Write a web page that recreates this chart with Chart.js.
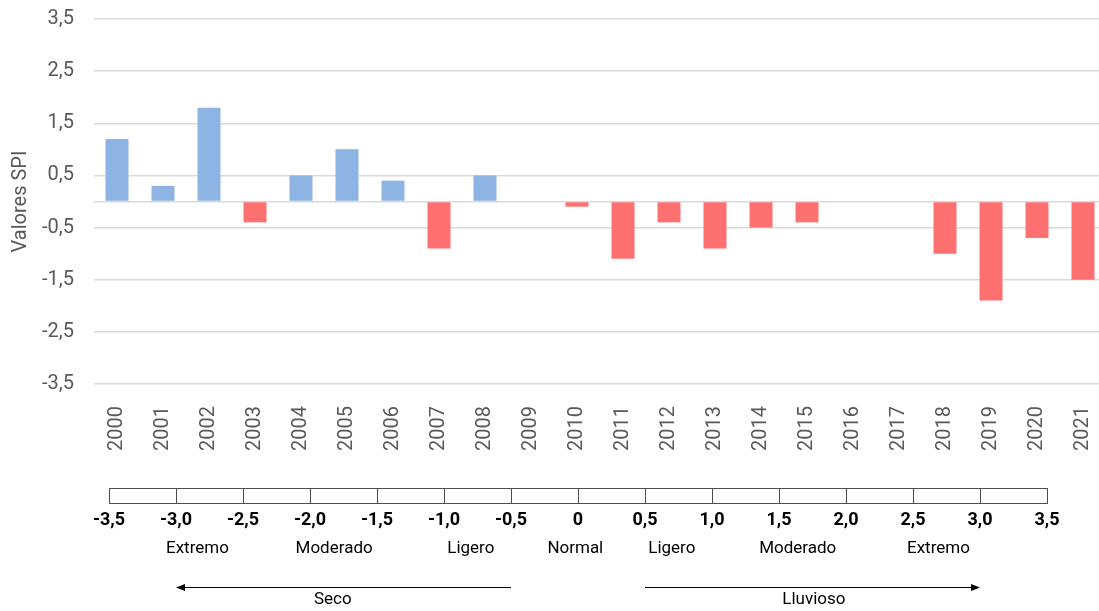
<!DOCTYPE html>
<html>
<head>
<meta charset="utf-8">
<script src="https://cdn.jsdelivr.net/npm/chart.js@4.4.1/dist/chart.umd.min.js"></script>
<style>
  html, body { margin:0; padding:0; background:#fff; overflow:hidden; width:1099px; height:611px; }
  #main { position:absolute; left:0; top:0; }
  #scale { position:absolute; left:0; top:480px; }
</style>
</head>
<body>
<canvas id="main" width="1106" height="460"></canvas>
<canvas id="scale" width="1099" height="131"></canvas>
<script>
// ---- data ----
const years = ['2000','2001','2002','2003','2004','2005','2006','2007','2008','2009','2010',
               '2011','2012','2013','2014','2015','2016','2017','2018','2019','2020','2021'];
const spiValues = [1.2, 0.3, 1.8, -0.4, 0.5, 1.0, 0.4, -0.9, 0.5, 0, -0.1,
                   -1.1, -0.4, -0.9, -0.5, -0.4, 0, 0, -1.0, -1.9, -0.7, -1.5];
const yAxisTitle = 'Valores SPI';

// classification scale
const scaleMin = -3.5, scaleMax = 3.5, scaleStep = 0.5;
const classNames = ['Extremo','Moderado','Ligero','Normal','Ligero','Moderado','Extremo'];
const classCenters = [-2.84, -1.82, -0.8, -0.02, 0.7, 1.64, 2.69];
const arrowLabels = ['Seco','Lluvioso'];
const arrowStarts = [-0.5, 0.5];
const arrowEnds = [-3.0, 3.0];
const arrowLabelCenters = [-1.83, 1.76];

const FONT = 'Roboto';
const GREY = '#595959';
const fmt = v => (v === 0 ? '0' : v.toFixed(1).replace('.', ','));

// ---- main bar chart ----
new Chart(document.getElementById('main'), {
  type: 'bar',
  data: {
    labels: years,
    datasets: [{
      data: spiValues,
      backgroundColor: spiValues.map(v => v >= 0 ? '#8EB4E3' : '#FF7070'),
      borderWidth: 0,
      barPercentage: 0.5,
      categoryPercentage: 1.0
    }]
  },
  options: {
    responsive: false,
    animation: false,
    devicePixelRatio: 1,
    layout: { padding: { top: 19, right: 0, bottom: 0, left: 0 } },
    plugins: { legend: { display: false }, tooltip: { enabled: false } },
    scales: {
      x: {
        grid: { display: false },
        border: { display: false },
        ticks: {
          color: GREY, font: { family: FONT, size: 20 },
          minRotation: 90, maxRotation: 90, autoSkip: false, padding: 14
        },
        afterFit: s => { s.height = 76; s.paddingLeft = 0; s.paddingRight = 0; }
      },
      y: {
        min: -3.5, max: 3.5,
        ticks: {
          stepSize: 1, color: GREY, font: { family: FONT, size: 20 }, padding: 20,
          callback: v => (v === 0 ? '' : fmt(v))
        },
        afterBuildTicks: s => {
          if (!s.ticks.some(t => t.value === 0)) {
            s.ticks.push({ value: 0 });
            s.ticks.sort((a, b) => a.value - b.value);
          }
        },
        grid: { color: '#D9D9D9', lineWidth: 1.5, drawTicks: false },
        border: { display: false },
        title: {
          display: true, text: yAxisTitle, color: GREY,
          font: { family: FONT, size: 20 }, padding: { top: 9, bottom: 0 }
        },
        afterFit: s => { s.width = 94; s.paddingTop = 0; s.paddingBottom = 0; }
      }
    }
  }
});

// ---- classification scale bar ----
const scaleAnnot = {
  id: 'scaleAnnot',
  afterDraw(chart) {
    const ctx = chart.ctx;
    const xs = chart.scales.x;
    ctx.save();
    ctx.fillStyle = '#000';
    ctx.font = '17px ' + FONT;
    ctx.textAlign = 'center';
    ctx.textBaseline = 'middle';
    classNames.forEach((n, i) => {
      ctx.fillText(n, xs.getPixelForValue(classCenters[i]), 69);
    });
    // arrows
    ctx.strokeStyle = '#000';
    ctx.lineWidth = 1;
    const ay = 107.5;
    arrowLabels.forEach((lab, i) => {
      const x0 = xs.getPixelForValue(arrowStarts[i]);
      const x1 = xs.getPixelForValue(arrowEnds[i]);
      const dir = Math.sign(x1 - x0);
      ctx.beginPath();
      ctx.moveTo(x0, ay);
      ctx.lineTo(x1 - dir * 7, ay);
      ctx.stroke();
      ctx.beginPath();
      ctx.moveTo(x1, ay);
      ctx.lineTo(x1 - dir * 9, ay - 3.5);
      ctx.lineTo(x1 - dir * 9, ay + 3.5);
      ctx.closePath();
      ctx.fill();
      ctx.fillText(lab, xs.getPixelForValue(arrowLabelCenters[i]), 120);
    });
    ctx.restore();
  }
};

new Chart(document.getElementById('scale'), {
  type: 'scatter',
  data: { datasets: [{ data: [], showLine: false }] },
  plugins: [scaleAnnot],
  options: {
    responsive: false,
    animation: false,
    devicePixelRatio: 1,
    layout: { padding: { top: 8, left: 109, right: 52, bottom: 0 } },
    plugins: { legend: { display: false }, tooltip: { enabled: false } },
    scales: {
      x: {
        type: 'linear', min: scaleMin, max: scaleMax,
        ticks: {
          stepSize: scaleStep, autoSkip: false, maxRotation: 0, padding: 7,
          color: '#000', font: { family: FONT, size: 18, weight: 'bold' },
          callback: v => fmt(v)
        },
        grid: { color: '#4D4D4D', lineWidth: 1, drawTicks: false },
        border: { display: true, color: '#4D4D4D', width: 1 },
        afterFit: s => { s.height = 108; }
      },
      y: {
        min: 0, max: 1,
        ticks: { display: false, stepSize: 1 },
        grid: { color: '#4D4D4D', lineWidth: 1, drawTicks: false },
        border: { display: false },
        afterFit: s => { s.width = 0; }
      }
    }
  }
});
</script>
</body>
</html>
